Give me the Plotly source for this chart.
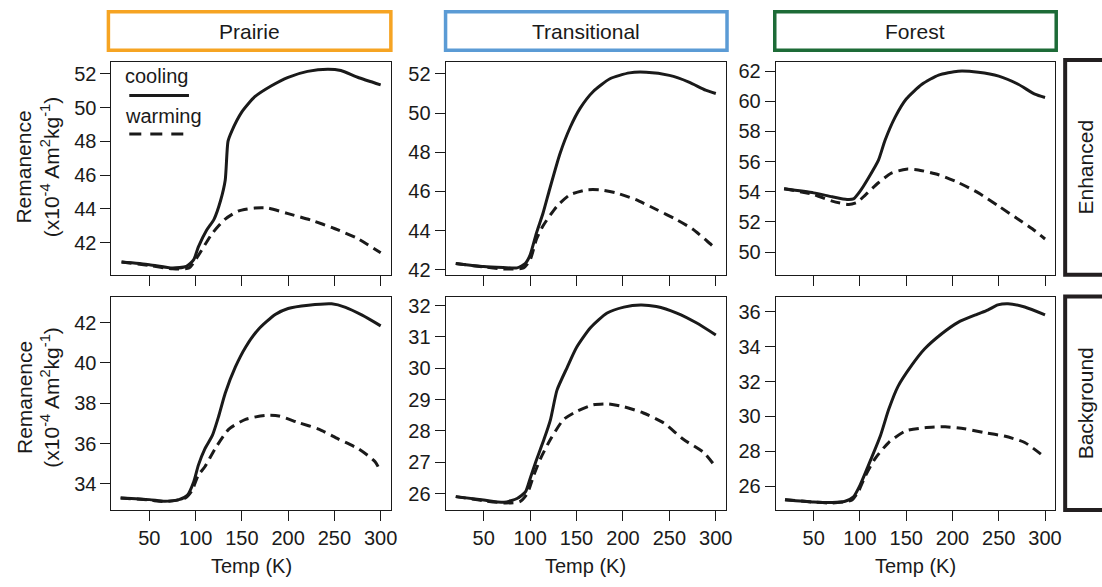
import plotly.graph_objects as go
from plotly.subplots import make_subplots

# temperature (K) / remanence (x10^-4 Am^2/kg)
prairie_enh_cool_t = [20, 50, 75, 90, 98, 103, 112, 120, 127, 132, 135, 139, 150, 164, 182, 200, 221, 243, 257, 275, 300]
prairie_enh_cool = [40.85, 40.7, 40.5, 40.6, 41.0, 41.75, 42.75, 43.4, 44.5, 45.7, 48.0, 48.6, 49.75, 50.65, 51.3, 51.8, 52.15, 52.28, 52.2, 51.8, 51.35]
prairie_enh_warm_t = [20, 50, 75, 93, 103, 118, 132, 146, 164, 178, 200, 225, 250, 275, 300]
prairie_enh_warm = [40.85, 40.65, 40.45, 40.5, 41.25, 42.55, 43.4, 43.87, 44.05, 44.05, 43.72, 43.33, 42.84, 42.25, 41.4]

trans_enh_cool_t = [20, 50, 71, 86, 95, 100, 107, 114, 121, 132, 143, 154, 168, 186, 207, 225, 250, 271, 289, 300]
trans_enh_cool = [42.33, 42.17, 42.12, 42.1, 42.33, 42.75, 43.9, 44.9, 46.1, 47.9, 49.25, 50.25, 51.1, 51.75, 52.05, 52.08, 51.92, 51.58, 51.17, 51.0]
trans_enh_warm_t = [20, 50, 71, 93, 100, 107, 114, 129, 143, 161, 175, 193, 214, 236, 257, 275, 296, 300]
trans_enh_warm = [42.33, 42.15, 42.05, 42.1, 42.5, 43.58, 44.25, 45.25, 45.83, 46.08, 46.08, 45.92, 45.58, 45.08, 44.58, 44.08, 43.25, 43.1]

forest_enh_cool_t = [18, 50, 70, 86, 93, 100, 109, 120, 127, 138, 150, 167, 185, 206, 228, 250, 271, 289, 300]
forest_enh_cool = [54.2, 53.93, 53.67, 53.49, 53.53, 54.03, 54.9, 56.1, 57.4, 58.95, 60.15, 61.13, 61.74, 62.0, 61.93, 61.67, 61.13, 60.47, 60.25]
forest_enh_warm_t = [18, 50, 70, 88, 97, 106, 120, 134, 150, 163, 185, 206, 228, 250, 271, 289, 300]
forest_enh_warm = [54.2, 53.82, 53.38, 53.16, 53.3, 53.8, 54.6, 55.24, 55.5, 55.45, 55.13, 54.62, 53.93, 53.05, 52.18, 51.42, 50.87]

prairie_bg_cool_t = [19, 50, 67, 82, 91, 98, 103, 110, 118, 125, 132, 143, 154, 168, 186, 200, 222, 247, 262, 280, 300]
prairie_bg_cool = [33.3, 33.22, 33.14, 33.22, 33.43, 34.11, 34.93, 35.74, 36.39, 37.37, 38.5, 39.8, 40.78, 41.67, 42.4, 42.7, 42.86, 42.93, 42.76, 42.37, 41.84]
prairie_bg_warm_t = [19, 50, 67, 89, 96, 103, 110, 121, 136, 154, 175, 190, 211, 233, 254, 276, 294, 300]
prairie_bg_warm = [33.3, 33.2, 33.12, 33.3, 33.66, 34.44, 34.85, 35.74, 36.72, 37.2, 37.4, 37.37, 37.04, 36.72, 36.23, 35.74, 35.1, 34.6]

trans_bg_cool_t = [20, 50, 72, 86, 95, 100, 106, 115, 122, 129, 140, 150, 165, 183, 201, 219, 236, 258, 279, 300]
trans_bg_cool = [25.9, 25.79, 25.72, 25.84, 26.05, 26.47, 27.0, 27.73, 28.36, 29.3, 30.03, 30.66, 31.29, 31.76, 31.95, 32.02, 31.97, 31.76, 31.45, 31.06]
trans_bg_warm_t = [20, 50, 72, 89, 97, 104, 111, 122, 136, 150, 168, 183, 201, 222, 244, 265, 287, 300]
trans_bg_warm = [25.9, 25.77, 25.7, 25.74, 26.0, 26.58, 27.1, 27.73, 28.36, 28.62, 28.83, 28.86, 28.77, 28.57, 28.25, 27.73, 27.31, 26.84]

forest_bg_cool_t = [19, 50, 70, 84, 93, 100, 109, 122, 131, 141, 156, 170, 188, 206, 227, 238, 249, 260, 278, 300]
forest_bg_cool = [25.22, 25.09, 25.06, 25.13, 25.38, 26.04, 27.17, 28.87, 30.39, 31.71, 32.94, 33.88, 34.73, 35.4, 35.87, 36.1, 36.4, 36.47, 36.28, 35.83]
forest_bg_warm_t = [19, 50, 70, 91, 98, 106, 116, 131, 149, 170, 192, 213, 235, 256, 278, 300]
forest_bg_warm = [25.22, 25.08, 25.03, 25.19, 25.66, 26.6, 27.55, 28.5, 29.16, 29.35, 29.4, 29.29, 29.06, 28.87, 28.5, 27.65]

sites = ['Prairie', 'Transitional', 'Forest']
treatments = ['Enhanced', 'Background']
temp_ticks = [50, 100, 150, 200, 250, 300]

W, H = 1102, 587
FONT = 'Liberation Sans, Arial, Helvetica, sans-serif'
INK = '#1a1a1a'

panels = [
    # row, col, cooling, warming, y range, y ticks
    (1, 1, (prairie_enh_cool_t, prairie_enh_cool), (prairie_enh_warm_t, prairie_enh_warm), [40.1, 52.7], [42, 44, 46, 48, 50, 52]),
    (1, 2, (trans_enh_cool_t, trans_enh_cool), (trans_enh_warm_t, trans_enh_warm), [41.75, 52.6], [42, 44, 46, 48, 50, 52]),
    (1, 3, (forest_enh_cool_t, forest_enh_cool), (forest_enh_warm_t, forest_enh_warm), [48.5, 62.6], [50, 52, 54, 56, 58, 60, 62]),
    (2, 1, (prairie_bg_cool_t, prairie_bg_cool), (prairie_bg_warm_t, prairie_bg_warm), [32.7, 43.25], [34, 36, 38, 40, 42]),
    (2, 2, (trans_bg_cool_t, trans_bg_cool), (trans_bg_warm_t, trans_bg_warm), [25.47, 32.26], [26, 27, 28, 29, 30, 31, 32]),
    (2, 3, (forest_bg_cool_t, forest_bg_cool), (forest_bg_warm_t, forest_bg_warm), [24.62, 36.83], [26, 28, 30, 32, 34, 36]),
]

# panel frames in pixels
col_px = [(112, 393), (448, 730), (780, 1061)]
row_px = [(60, 276), (299, 515)]


def px_x(x):
    return x / W


def px_y(y):
    return 1 - y / H


fig = make_subplots(rows=2, cols=3)

for row, col, cool, warm, yr, yt in panels:
    fig.add_trace(go.Scatter(x=cool[0], y=cool[1], mode='lines', line=dict(color=INK, width=3, shape='spline', smoothing=0.6),
                             showlegend=False), row=row, col=col)
    fig.add_trace(go.Scatter(x=warm[0], y=warm[1], mode='lines', line=dict(color=INK, width=3, dash='10px,6px', shape='spline', smoothing=0.6),
                             showlegend=False), row=row, col=col)
    x0, x1 = col_px[col - 1]
    y0, y1 = row_px[row - 1]
    fig.update_xaxes(domain=[px_x(x0), px_x(x1)], range=[9, 311], tickvals=temp_ticks,
                     showticklabels=(row == 2), ticks='outside', ticklen=10, tickwidth=1, tickcolor=INK,
                     showline=True, linecolor=INK, linewidth=1, mirror=True, showgrid=False, zeroline=False,
                     tickfont=dict(size=20, color=INK), row=row, col=col)
    fig.update_yaxes(domain=[px_y(y1), px_y(y0)], range=yr, tickvals=yt,
                     ticks='outside', ticklen=10, tickwidth=1, tickcolor=INK,
                     showline=True, linecolor=INK, linewidth=1, mirror=True, showgrid=False, zeroline=False,
                     tickfont=dict(size=20, color=INK), row=row, col=col)

shapes = []
annotations = []


def label(text, x, y, size=20, angle=0, xanchor='center'):
    annotations.append(dict(text=text, xref='paper', yref='paper', x=px_x(x), y=px_y(y), xanchor=xanchor,
                            yanchor='middle', textangle=angle, showarrow=False, font=dict(size=size, color=INK)))


# site headers
header_colors = ['#f6a423', '#5b9bd5', '#1d6b37']
header_px = [(109, 393), (448, 731), (779, 1062)]
for name, c, (x0, x1) in zip(sites, header_colors, header_px):
    shapes.append(dict(type='rect', xref='paper', yref='paper', x0=px_x(x0), x1=px_x(x1), y0=px_y(48), y1=px_y(9),
                       line=dict(color=c, width=3.5), fillcolor='white'))
    label(name, (x0 + x1) / 2, 28.5, size=21)

# treatment labels on the right
for name, (y0, y1) in zip(treatments, [(58, 276), (298, 515)]):
    shapes.append(dict(type='rect', xref='paper', yref='paper', x0=px_x(1071), x1=px_x(1130), y0=px_y(y1), y1=px_y(y0),
                       line=dict(color='#231f20', width=4)))
    label(name, 1091, (y0 + y1) / 2, size=21, angle=-90)

# y titles
ylab = 'Remanence<br>(x10<sup>-4</sup> Am<sup>2</sup>kg<sup>-1</sup>)'
for yc in [166, 400]:
    label(ylab, 38, yc, size=21, angle=-90)

# x titles
for x0, x1 in col_px:
    label('Temp (K)', (x0 + x1) / 2, 572, size=20)

# key in the first panel
for text, yk in [('cooling', 74), ('warming', 115)]:
    label(text, 124, yk, size=20, xanchor='left')
shapes.append(dict(type='line', xref='paper', yref='paper', x0=px_x(130), x1=px_x(190), y0=px_y(94), y1=px_y(94),
                   line=dict(color=INK, width=3)))
shapes.append(dict(type='line', xref='paper', yref='paper', x0=px_x(130), x1=px_x(188), y0=px_y(133), y1=px_y(133),
                   line=dict(color=INK, width=3, dash='12px,9px')))

fig.update_layout(width=W, height=H, margin=dict(l=0, r=0, t=0, b=0), paper_bgcolor='white', plot_bgcolor='white',
                  font=dict(family=FONT, color=INK), shapes=shapes, annotations=annotations, showlegend=False)

# drop the page's default body margin so the 1102x587 figure fills the window exactly
fig.write_html("out.html", config={'displayModeBar': False},
               post_script="document.body.style.margin='0px';")
